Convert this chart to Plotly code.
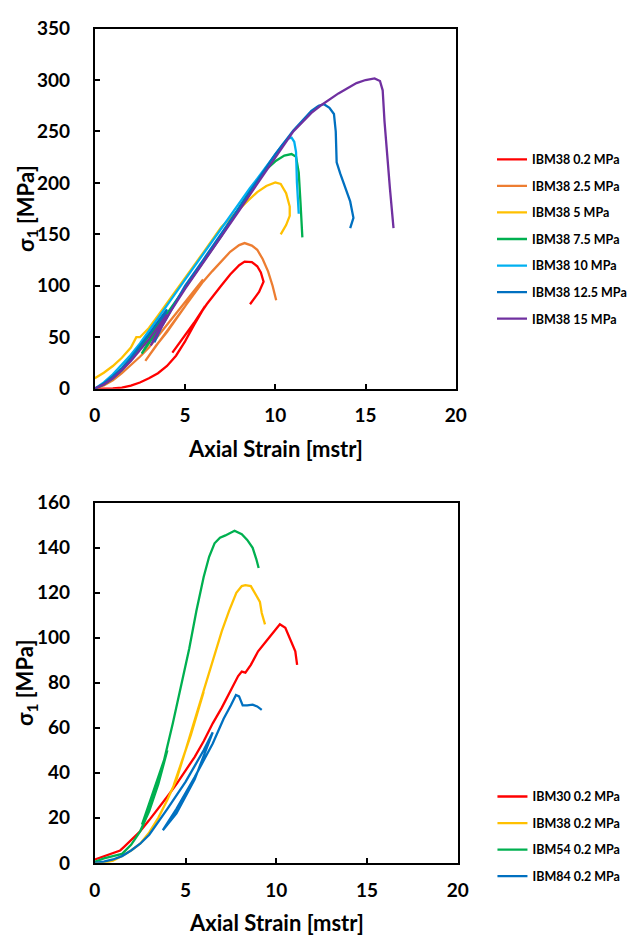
import plotly.graph_objects as go

# ---------------- Top chart: IBM38 at different confining pressures ----------------
top_names = ["IBM38 0.2 MPa", "IBM38 2.5 MPa", "IBM38 5 MPa", "IBM38 7.5 MPa",
             "IBM38 10 MPa", "IBM38 12.5 MPa", "IBM38 15 MPa"]
top_colors = ["#FF0000", "#ED7D31", "#FFC000", "#00B050", "#00B0F0", "#0070C0", "#7030A0"]

ibm38_02_x = [0, 0.5, 1, 1.5, 2, 2.5, 3, 3.5, 4, 4.5, 5, 5.5, 6.1, 5.5, 5.0, 4.3, 4.8, 5.5, 6.2, 6.5, 7, 7.5, 8, 8.3, 8.7, 9.0, 9.2, 9.35, 9.1, 8.6]
ibm38_02_y = [0, 0, 0.3, 1, 3, 6, 10, 15, 22, 32, 46, 62, 80, 64, 52, 35, 47, 64, 82, 89, 100, 111, 120, 123.5, 123, 119, 113, 104, 94, 82]

ibm38_25_x = [0, 0.5, 1, 1.5, 2, 2.5, 3, 3.5, 4, 4.5, 5, 5.5, 6, 5.0, 4.0, 3.4, 2.8, 3.5, 4.5, 5.5, 6.0, 6.5, 7, 7.5, 8, 8.3, 8.7, 9.0, 9.3, 9.6, 9.85, 10.05]
ibm38_25_y = [0, 3, 8, 15, 23, 31, 40, 51, 62, 74, 85, 96, 106, 80, 55, 42, 27, 44, 68, 92, 104, 114, 124, 133, 139.5, 141.5, 139, 135, 126, 114, 100, 86]

ibm38_5_x = [0, 0.5, 1, 1.5, 2, 2.2, 2.3, 2.5, 2.8, 3, 3.5, 4, 5, 6, 7, 7.5, 8, 8.5, 9, 9.5, 10, 10.3, 10.6, 10.8, 10.8, 10.6, 10.3]
ibm38_5_y = [10, 15.5, 22, 30, 40, 46, 50, 50, 55, 59, 71, 83, 107, 132, 157, 166, 174, 183, 191, 197, 200.5, 199, 190, 177, 168, 159, 150]

ibm38_75_x = [0, 0.5, 1, 1.5, 2, 2.5, 3, 3.5, 4, 3.3, 2.6, 3.2, 4, 5, 6, 7, 8, 8.5, 9, 9.5, 10, 10.5, 10.9, 11.15, 11.3, 11.4, 11.5]
ibm38_75_y = [0, 4, 10, 18, 28, 39, 51, 63, 75, 55, 34, 49, 73, 98, 123, 148, 176, 190, 203, 213, 221, 226.5, 228, 225.5, 210, 180, 147]

ibm38_10_x = [0, 0.5, 1, 1.5, 2, 2.5, 3, 3.5, 4, 5, 6, 7, 8, 8.6, 9, 9.5, 10, 10.4, 10.7, 10.9, 11.05, 11.15, 11.2, 11.3]
ibm38_10_y = [0, 6, 14, 23, 33, 44, 56, 68, 81, 106, 131, 156, 181, 195, 204, 216, 228, 237, 243, 244, 240, 230, 200, 170]

ibm38_125_x = [0, 0.5, 1, 1.5, 2, 2.5, 3, 3.5, 4, 3.6, 3.3, 3.7, 4.3, 5, 6, 7, 8, 9, 10, 11, 11.5, 12, 12.4, 12.7, 13.0, 13.25, 13.35, 13.4, 13.6, 13.9, 14.15, 14.33, 14.15]
ibm38_125_y = [0, 5, 12, 20, 30, 41, 53, 65, 77, 62, 45, 60, 78, 100, 125, 150, 176, 202, 228, 251, 261, 270, 275, 276.5, 273, 267, 250, 220, 209, 195, 182, 166, 156]

ibm38_15_x = [0, 0.5, 1, 1.5, 2, 2.5, 3, 3.5, 4, 3.5, 3.1, 3.6, 4.2, 5, 6, 7, 8, 9, 10, 10.5, 11, 11.5, 12, 12.5, 13, 13.5, 14, 14.5, 15, 15.5, 15.8, 15.95, 16.05, 16.2, 16.35, 16.55]
ibm38_15_y = [0, 4, 10, 18, 27, 37, 48, 60, 72, 56, 42, 57, 75, 97, 122, 147, 173, 199, 225, 238, 250, 259, 268, 275, 281, 287, 292, 297, 300, 301.5, 299, 290, 260, 225, 195, 156]

top_x = [ibm38_02_x, ibm38_25_x, ibm38_5_x, ibm38_75_x, ibm38_10_x, ibm38_125_x, ibm38_15_x]
top_y = [ibm38_02_y, ibm38_25_y, ibm38_5_y, ibm38_75_y, ibm38_10_y, ibm38_125_y, ibm38_15_y]

# ---------------- Bottom chart: different samples at 0.2 MPa ----------------
bot_names = ["IBM30 0.2 MPa", "IBM38 0.2 MPa", "IBM54 0.2 MPa", "IBM84 0.2 MPa"]
bot_colors = ["#FF0000", "#FFC000", "#00B050", "#0070C0"]

ibm30_x = [0, 0.5, 1, 1.4, 1.6, 2, 2.5, 3, 3.5, 4, 4.5, 5, 5.5, 6, 6.5, 7, 7.5, 7.9, 8.1, 8.3, 8.6, 9, 9.5, 10, 10.2, 10.5, 10.8, 11.05, 11.15]
ibm30_y = [1.5, 3, 4.5, 5.5, 7, 10, 14, 19, 24, 29.5, 35, 41, 47, 54, 62, 69, 77, 83, 85, 84.5, 88, 94, 99, 104, 106, 104.5, 99, 94, 88]

ibm38b_x = [0, 0.5, 1, 1.5, 2, 2.5, 3, 3.5, 4, 4.5, 5, 5.5, 6, 5.3, 4.35, 5, 5.6, 6.2, 6.6, 7, 7.4, 7.8, 8.1, 8.3, 8.6, 8.9, 9.1, 9.2, 9.38]
ibm38b_y = [0, 0, 1, 3, 5.5, 8.5, 13.5, 20, 28, 37, 50, 63, 76, 57, 34.5, 50, 66, 82, 93, 103, 112, 120, 123, 123.4, 123, 119, 116, 111, 106]

ibm54_x = [0, 0.5, 1, 1.5, 2, 2.5, 3, 3.5, 4, 3.3, 2.6, 3.2, 3.8, 4.3, 4.8, 5.2, 5.6, 6, 6.3, 6.6, 6.9, 7.2, 7.7, 8.1, 8.4, 8.7, 8.9, 9.03]
ibm54_y = [0.5, 2, 3, 4, 8, 14, 23, 35, 50, 33, 17, 30, 45, 62, 80, 95, 112, 127, 136, 142, 144.5, 145.5, 147.6, 146, 143.5, 140, 135, 131]

ibm84_x = [0, 0.5, 1, 1.5, 2, 2.5, 3, 3.5, 4, 4.5, 5, 5.5, 6, 6.5, 5.5, 4.5, 3.75, 4.5, 5.5, 6.5, 7.1, 7.5, 7.78, 7.95, 8.15, 8.4, 8.7, 8.95, 9.2]
ibm84_y = [0, 0.5, 1.5, 3, 5.5, 8.5, 12.5, 18, 24, 30, 36, 43, 50, 58, 37, 22, 14.5, 24, 38, 53, 64, 70, 74.6, 74, 70, 70, 70.3, 69.5, 68]

bot_x = [ibm30_x, ibm38b_x, ibm54_x, ibm84_x]
bot_y = [ibm30_y, ibm38b_y, ibm54_y, ibm84_y]

FONT = "Lato"
W, H = 632, 948

fig = go.Figure()
for i, name in enumerate(top_names):
    fig.add_trace(go.Scatter(x=top_x[i], y=top_y[i], mode="lines", name=name,
                             line=dict(color=top_colors[i], width=2.3),
                             xaxis="x", yaxis="y", legend="legend",
                             legendgroup="t%d" % i))
for i, name in enumerate(bot_names):
    fig.add_trace(go.Scatter(x=bot_x[i], y=bot_y[i], mode="lines", name=name,
                             line=dict(color=bot_colors[i], width=2.3),
                             xaxis="x2", yaxis="y2", legend="legend2",
                             legendgroup="b%d" % i))

# plot areas in pixels
tx0, tx1, ty0, ty1 = 92, 466, 17, 386
bx0, bx1, by0, by1 = 92, 468, 503, 872

def ax_common():
    return dict(showline=True, mirror=True, linecolor="black", linewidth=2,
                ticks="inside", ticklen=5, tickwidth=2, tickcolor="black",
                showgrid=False, zeroline=False,
                tickfont=dict(family=FONT, size=19, color="black", weight="bold"))

leg_font = dict(family=FONT, size=12.5, color="black", weight="bold")
fig.update_layout(
    width=W, height=H, margin=dict(l=0, r=0, t=0, b=0),
    paper_bgcolor="white", plot_bgcolor="white", showlegend=True,
    xaxis=dict(domain=[tx0 / W, tx1 / W], range=[0, 20], dtick=5, anchor="y",
               ticklabelstandoff=9, **ax_common()),
    yaxis=dict(domain=[1 - ty1 / H, 1 - ty0 / H], range=[0, 350], dtick=50, anchor="x",
               ticklabelstandoff=19, **ax_common()),
    xaxis2=dict(domain=[bx0 / W, bx1 / W], range=[0, 20], dtick=5, anchor="y2",
                ticklabelstandoff=9, **ax_common()),
    yaxis2=dict(domain=[1 - by1 / H, 1 - by0 / H], range=[0, 160], dtick=20, anchor="x2",
                ticklabelstandoff=19, **ax_common()),
    legend=dict(x=504 / W, y=1 - 136 / H, xanchor="left", yanchor="top",
                font=leg_font, tracegroupgap=7.3, bgcolor="rgba(0,0,0,0)", itemwidth=30),
    legend2=dict(x=504 / W, y=1 - 789 / H, xanchor="left", yanchor="top",
                 font=leg_font, tracegroupgap=7.3, bgcolor="rgba(0,0,0,0)", itemwidth=30),
)

title_font = dict(family=FONT, size=22, color="black", weight="bold")
annots = [
    dict(text="Axial Strain [mstr]", x=(tx0 + tx1) / 2 / W, y=1 - 447 / H),
    dict(text="Axial Strain [mstr]", x=(bx0 + bx1) / 2 / W, y=1 - 933 / H),
    dict(text="σ<sub>1</sub> [MPa]", x=21 / W, y=1 - (ty0 + ty1) / 2 / H, textangle=-90),
    dict(text="σ<sub>1</sub> [MPa]", x=21 / W, y=1 - (by0 + by1) / 2 / H, textangle=-90),
]
for a in annots:
    fig.add_annotation(xref="paper", yref="paper", showarrow=False,
                       xanchor="center", yanchor="middle", font=title_font, **a)

fig.write_html("out.html")
